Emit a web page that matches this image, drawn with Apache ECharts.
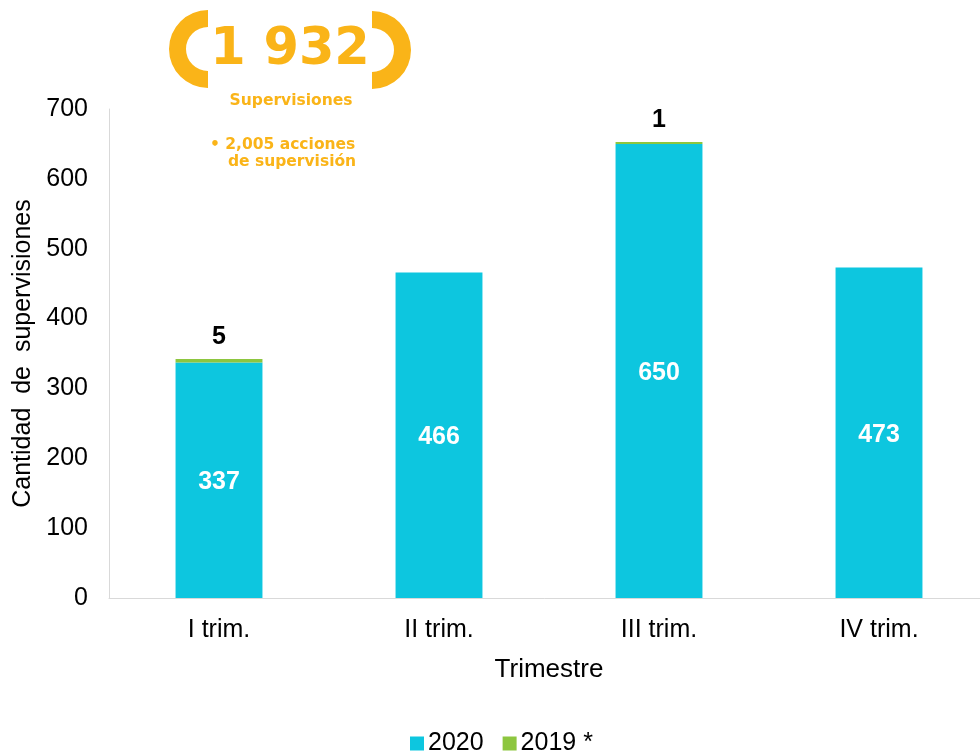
<!DOCTYPE html>
<html lang="es">
<head>
  <meta charset="UTF-8">
  <title>Supervisiones por trimestre</title>
  <script src="https://cdn.jsdelivr.net/npm/echarts@6/dist/echarts.min.js"></script>
  <style>
    html, body { margin: 0; padding: 0; background: #fff; }
    #chart { width: 980px; height: 751px; }
  </style>
</head>
<body>
<div id="chart"></div>
<script>
  // datos
  var trimestres = ['I trim.', 'II trim.', 'III trim.', 'IV trim.'];
  var serie2020 = [337, 466, 650, 473];
  var serie2019 = [5, null, 1, null]; // solo I y III tienen 2019
  var yTicks = [0, 100, 200, 300, 400, 500, 600, 700];

  var amarillo = '#FAB418';
  var fuenteLogo = 'DejaVu Sans, sans-serif';
  var chart = echarts.init(document.getElementById('chart'));

  var option = {
    animation: false,
    textStyle: { fontFamily: 'Liberation Sans, Arial, sans-serif' },
    grid: { left: 109, right: -9, top: 109, bottom: 153, containLabel: false, outerBoundsMode: 'none' },
    legend: {
      left: 405,
      bottom: -10,
      itemWidth: 14,
      itemHeight: 14,
      itemGap: 19,
      icon: 'rect',
      textStyle: { fontSize: 25, color: '#000', padding: [0, 0, 0, -1] },
      data: ['2020', '2019 *']
    },
    xAxis: {
      type: 'category',
      data: trimestres,
      name: 'Trimestre',
      nameLocation: 'middle',
      nameGap: 59,
      nameTextStyle: { fontSize: 26, color: '#000' },
      axisLine: { lineStyle: { color: '#d9d9d9', width: 1 } },
      axisTick: { show: false },
      axisLabel: { fontSize: 25, color: '#000', margin: 20 }
    },
    yAxis: {
      type: 'value',
      min: yTicks[0],
      max: yTicks[yTicks.length - 1],
      interval: 100,
      name: 'Cantidad  de  supervisiones',
      nameLocation: 'middle',
      nameGap: 73,
      nameTextStyle: { fontSize: 25, color: '#000' },
      axisLine: { show: true, lineStyle: { color: '#d9d9d9', width: 1 } },
      axisTick: { show: false },
      splitLine: { show: false },
      axisLabel: { fontSize: 25, color: '#000', margin: 21 }
    },
    series: [
      {
        name: '2020',
        type: 'bar',
        stack: 'total',
        barWidth: '39.5%',
        data: serie2020,
        itemStyle: { color: '#0DC6DF' },
        label: {
          show: true,
          position: 'inside',
          offset: [0, 2],
          color: '#fff',
          fontWeight: 'bold',
          fontSize: 25
        }
      },
      {
        name: '2019 *',
        type: 'bar',
        stack: 'total',
        barMinHeight: 2,
        data: serie2019,
        itemStyle: { color: '#8DC63F' },
        label: {
          show: true,
          position: 'top',
          distance: 9,
          color: '#000',
          fontWeight: 'bold',
          fontSize: 25
        }
      }
    ],
    graphic: [
      // parentesis del recuadro "1 932"
      {
        type: 'sector',
        shape: { cx: 208, cy: 49, r: 39, r0: 22, startAngle: Math.PI / 2, endAngle: Math.PI * 3 / 2 },
        style: { fill: amarillo }
      },
      {
        type: 'sector',
        shape: { cx: 372, cy: 50, r: 39, r0: 22, startAngle: -Math.PI / 2, endAngle: Math.PI / 2 },
        style: { fill: amarillo }
      },
      {
        type: 'text',
        x: 290, y: 51,
        style: {
          text: '1 932', fill: amarillo, fontSize: 51, fontWeight: 'bold',
          fontFamily: fuenteLogo, align: 'center', verticalAlign: 'middle'
        }
      },
      {
        type: 'text',
        x: 291, y: 101,
        style: {
          text: 'Supervisiones', fill: amarillo, fontSize: 15.5, fontWeight: 'bold',
          fontFamily: fuenteLogo, align: 'center', verticalAlign: 'middle'
        }
      },
      {
        type: 'text',
        x: 210, y: 145,
        style: {
          text: '• 2,005 acciones', fill: amarillo, fontSize: 15.5, fontWeight: 'bold',
          fontFamily: fuenteLogo, align: 'left', verticalAlign: 'middle'
        }
      },
      {
        type: 'text',
        x: 228, y: 162,
        style: {
          text: 'de supervisión', fill: amarillo, fontSize: 15.5, fontWeight: 'bold',
          fontFamily: fuenteLogo, align: 'left', verticalAlign: 'middle'
        }
      }
    ]
  };

  chart.setOption(option);
</script>
</body>
</html>
